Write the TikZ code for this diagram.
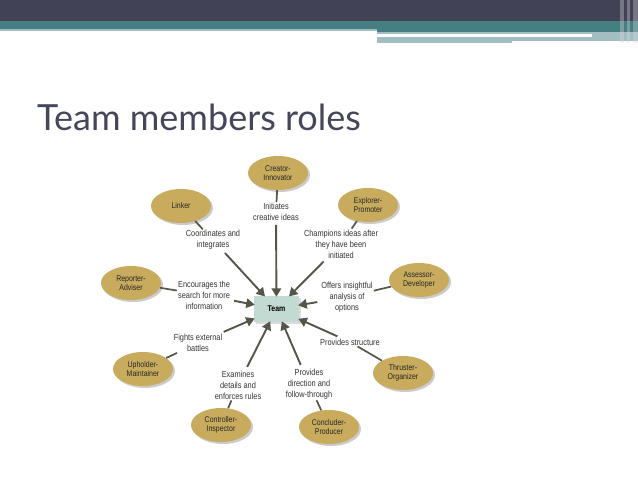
\documentclass[tikz,border=0pt]{standalone}
\usepackage{fontspec}
\setmainfont{Liberation Sans}
\newfontfamily\titlefont{Lato}
\newfontfamily\cond[FakeStretch=0.84]{Liberation Sans}
\usetikzlibrary{arrows.meta,shapes.geometric,shadows}
\definecolor{hdrdark}{HTML}{414255}
\definecolor{hdrteal}{HTML}{457F82}
\definecolor{hdrlight}{HTML}{A3BEC2}
\definecolor{titlec}{HTML}{45465A}
\definecolor{gold}{HTML}{C8AB5C}
\definecolor{teambox}{HTML}{C2DAD2}
\definecolor{arrowc}{HTML}{55554A}
\definecolor{labelc}{HTML}{333333}
\tikzset{
  role/.style={ellipse, fill=gold, minimum width=60pt, minimum height=34pt, inner sep=0pt,
    font=\cond\fontsize{8.3}{9.5}\selectfont, text=black!85, align=center,
    drop shadow={shadow xshift=2pt, shadow yshift=-2pt, fill=black!45, opacity=.45}},
  lbl/.style={font=\cond\fontsize{8.8}{11}\selectfont, text=labelc, align=center, inner sep=1pt},
  arr/.style={draw=arrowc, line width=1.9pt, shorten <=3pt, shorten >=-1pt,
    -{Triangle[length=8.5pt,width=9.5pt]}},
  tick/.style={draw=arrowc, line width=1.7pt},
  teamnode/.style={draw=none, fill=teambox, minimum width=45pt, minimum height=26pt,
    inner sep=0pt, font=\cond\bfseries\fontsize{8.3}{9}\selectfont,
    drop shadow={shadow xshift=1.5pt, shadow yshift=-1.5pt, fill=black!40, opacity=.35}}
}
\begin{document}
\begin{tikzpicture}[x=1pt,y=-1pt]
\useasboundingbox (0,0) rectangle (638,479);
\fill[white] (0,0) rectangle (638,479);
% header
\fill[hdrdark] (0,0) rectangle (638,21);
\fill[hdrteal] (0,21) rectangle (638,29);
\fill[hdrlight] (0,29) rectangle (377,31);
\fill[hdrteal] (377,29) rectangle (638,32);
\fill[hdrlight] (377,32) rectangle (638,41);
\fill[white] (377,33.5) rectangle (592,36.5);
\fill[hdrlight] (377,41) rectangle (512,43);
\fill[white!80!hdrdark, opacity=.35] (620,0) rectangle (624,43);
\fill[white!80!hdrdark, opacity=.35] (627,0) rectangle (630,43);
\fill[white!80!hdrdark, opacity=.35] (633,0) rectangle (638,43);
% title
\node[anchor=base west, inner sep=0pt, text=titlec, font=\titlefont\fontsize{36}{42}\selectfont] (title) at (37,130) {Team members roles};
% team
\node[teamnode] (team) at (276.5,309) {Team};
% roles
\node[role] (creator) at (278,173) {Creator-\\Innovator};
\node[role] (linker) at (181,206) {Linker};
\node[role] (explorer) at (368,205) {Explorer-\\Promoter};
\node[role] (assessor) at (419,280) {Assessor-\\Developer};
\node[role] (reporter) at (131,283) {Reporter-\\Adviser};
\node[role] (upholder) at (143,369) {Upholder-\\Maintainer};
\node[role] (thruster) at (403,373) {Thruster-\\Organizer};
\node[role] (controller) at (221,425) {Controller-\\Inspector};
\node[role] (concluder) at (329,427) {Concluder-\\Producer};
% labels
\node[lbl] (l1) at (276,212) {Initiates\\creative ideas};
\node[lbl] (l2) at (213,240) {Coordinates and\\integrates};
\node[lbl] (l3) at (341,244) {Champions ideas after\\they have been\\initiated};
\node[lbl] (l4) at (204,295) {Encourages the\\search for more\\information};
\node[lbl] (l5) at (347,297) {Offers insightful\\analysis of\\options};
\node[lbl] (l6) at (198,343) {Fights external\\battles};
\node[lbl] (l7) at (350,342) {Provides structure};
\node[lbl] (l8) at (238,385) {Examines\\details and\\enforces rules};
\node[lbl] (l9) at (309,384) {Provides\\direction and\\follow-through};
% ticks
\draw[tick] (creator) -- (l1);
\draw[tick] (linker) -- (l2);
\draw[tick] (explorer) -- (l3);
\draw[tick] (assessor) -- (l5);
\draw[tick] (reporter) -- (l4);
\draw[tick] (upholder) -- (l6);
\draw[tick] (thruster) -- (l7);
\draw[tick] (controller) -- (l8);
\draw[tick] (concluder) -- (l9);
% arrows
\draw[arr] (l1) -- (team);
\draw[arr] (l2) -- (team);
\draw[arr] (l3) -- (team);
\draw[arr] (l4) -- (team);
\draw[arr] (l5) -- (team);
\draw[arr] (l6) -- (team);
\draw[arr] (l7) -- (team);
\draw[arr] (l8) -- (team);
\draw[arr] (l9) -- (team);
\end{tikzpicture}
\end{document}
